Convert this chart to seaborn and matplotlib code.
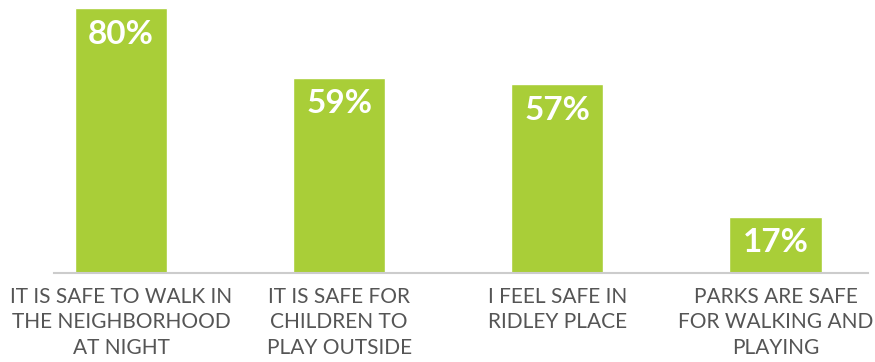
import matplotlib
matplotlib.use("Agg")
import matplotlib.pyplot as plt
import seaborn as sns
import pandas as pd

categories = [
    "IT IS SAFE TO WALK IN\nTHE NEIGHBORHOOD\nAT NIGHT",
    "IT IS SAFE FOR\nCHILDREN TO\nPLAY OUTSIDE",
    "I FEEL SAFE IN\nRIDLEY PLACE",
    "PARKS ARE SAFE\nFOR WALKING AND\nPLAYING",
]
values = [80, 59, 57, 17]
value_labels = ["80%", "59%", "57%", "17%"]

sns.set_theme(style="white")
plt.rcParams['font.family'] = ['Lato', 'DejaVu Sans']

df = pd.DataFrame({"cat": categories, "val": values})

fig = plt.figure(figsize=(8.75, 3.62), dpi=100)
ax = fig.add_axes([54/875, 1 - 273/362, 814/875, 273/362])

green = "#A9CE38"
sns.barplot(data=df, x="cat", y="val", color=green, saturation=1, width=0.422, ax=ax)

ax.set_xlim(-0.307, 3.424)
ax.set_ylim(0, 82.4)
ax.set_xlabel("")
ax.set_ylabel("")
ax.set_yticks([])
for s in ["top", "right", "left"]:
    ax.spines[s].set_visible(False)
ax.spines["bottom"].set_color("#cccccc")
ax.spines["bottom"].set_linewidth(1.5)
ax.tick_params(axis="x", length=0, pad=10)
ax.set_xticks(range(len(categories)))
ax.set_xticklabels(categories, fontsize=15, color="#555555", fontweight="normal",
                   linespacing=1.35)

for i, (v, lab) in enumerate(zip(values, value_labels)):
    ax.annotate(lab, xy=(i, v), xytext=(0, -8.5), textcoords="offset points",
                ha="center", va="top", color="white", fontsize=24, fontweight="bold")

fig.savefig("out.png", dpi=100)
